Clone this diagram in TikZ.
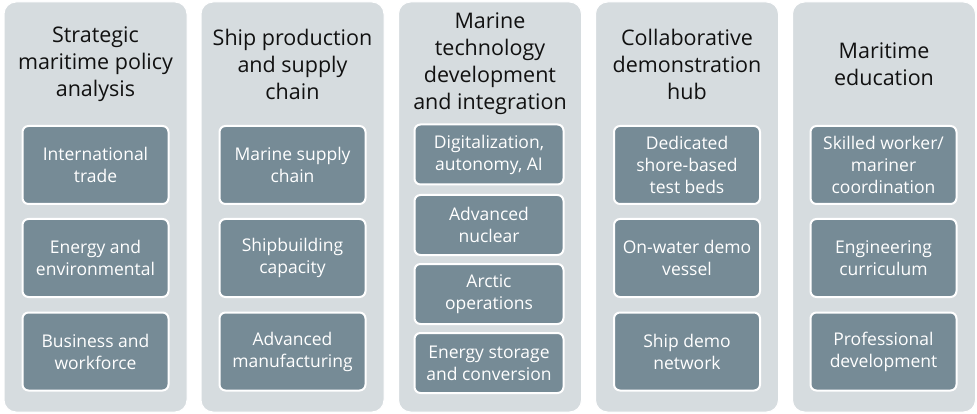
\documentclass[tikz,border=0pt]{standalone}
\usepackage{fontspec}
\setmainfont{Open Sans}
\definecolor{panelfill}{HTML}{D6DCDF}
\definecolor{boxfill}{HTML}{768B96}
\definecolor{titletext}{HTML}{111111}
\tikzset{
  panel/.style={draw=white, line width=1pt, fill=panelfill, rounded corners=12pt, minimum width=183pt, minimum height=410pt, inner sep=0pt},
  paneltitle/.style={align=center, text=titletext, font=\fontsize{21.5}{27}\selectfont, inner sep=0pt},
  itembox/.style={draw=white, line width=2pt, fill=boxfill, rounded corners=6pt, minimum width=146pt, minimum height=78pt, inner sep=0pt, align=center, text=white, font=\fontsize{17.5}{22}\selectfont},
  smallbox/.style={itembox, minimum height=60pt}
}
\begin{document}
\begin{tikzpicture}[x=1pt,y=-1pt]
\useasboundingbox (0,0) rectangle (977,414);
% panels
\node[panel] (p1) at (95.5,207) {};
\node[panel] (p2) at (292.5,207) {};
\node[panel] (p3) at (490,207) {};
\node[panel] (p4) at (687,207) {};
\node[panel] (p5) at (884,207) {};
% titles
\node[paneltitle] (t1) at (95.5,64) {Strategic\\maritime policy\\analysis};
\node[paneltitle] (t2) at (292.5,64) {Ship production\\and supply\\chain};
\node[paneltitle] (t3) at (490,64) {Marine\\technology\\development\\and integration};
\node[paneltitle] (t4) at (687,64) {Collaborative\\demonstration\\hub};
\node[paneltitle] (t5) at (884,64) {Maritime\\education};
% column 1
\node[itembox] (a1) at (95.5,165) {International\\trade};
\node[itembox] (a2) at (95.5,258) {Energy and\\environmental};
\node[itembox] (a3) at (95.5,351.5) {Business and\\workforce};
% column 2
\node[itembox] (b1) at (292.5,165) {Marine supply\\chain};
\node[itembox] (b2) at (292.5,258) {Shipbuilding\\capacity};
\node[itembox] (b3) at (292.5,351.5) {Advanced\\manufacturing};
% column 3
\node[smallbox, minimum width=149pt] (c1) at (489,154.5) {Digitalization,\\autonomy, AI};
\node[smallbox, minimum width=149pt] (c2) at (489,225) {Advanced\\nuclear};
\node[smallbox, minimum width=149pt] (c3) at (489,294) {Arctic\\operations};
\node[smallbox, minimum width=149pt] (c4) at (489,363) {Energy storage\\and conversion};
% column 4
\node[itembox] (d1) at (687,165) {Dedicated\\shore-based\\test beds};
\node[itembox] (d2) at (687,258) {On-water demo\\vessel};
\node[itembox] (d3) at (687,351.5) {Ship demo\\network};
% column 5
\node[itembox] (e1) at (883.5,165) {Skilled worker/\\mariner\\coordination};
\node[itembox] (e2) at (883.5,258) {Engineering\\curriculum};
\node[itembox] (e3) at (883.5,351.5) {Professional\\development};
\end{tikzpicture}
\end{document}
